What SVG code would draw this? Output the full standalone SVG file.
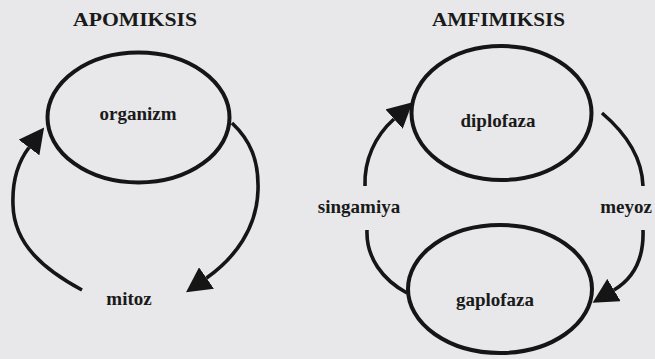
<svg xmlns="http://www.w3.org/2000/svg" width="655" height="359" viewBox="0 0 655 359">
  <style>
    .bg { fill: #e8e8ea; }
    .node { fill: none; stroke: #151515; stroke-width: 4; }
    .link { fill: none; stroke: #151515; stroke-width: 3.6; stroke-linecap: butt; }
    text { font-family: "Liberation Serif", "DejaVu Serif", serif; font-weight: bold; font-size: 19px; fill: #1a1a1a; }
  </style>
  <defs>
    <marker id="head" markerUnits="userSpaceOnUse" viewBox="0 0 25 26" refX="0" refY="13" markerWidth="25" markerHeight="26" orient="auto">
      <path d="M0,0 L25,13 L0,26 Z" fill="#151515"/>
    </marker>
  </defs>

  <rect class="bg" x="0" y="0" width="655" height="359"/>

  <!-- headings -->
  <text x="73" y="26" textLength="124" lengthAdjust="spacingAndGlyphs">APOMIKSIS</text>
  <text x="432" y="26" textLength="133" lengthAdjust="spacingAndGlyphs">AMFIMIKSIS</text>

  <!-- nodes -->
  <g id="organizm">
    <ellipse class="node" cx="138.5" cy="117.5" rx="91" ry="65"/>
    <text x="138" y="120" text-anchor="middle">organizm</text>
  </g>
  <g id="diplofaza">
    <ellipse class="node" cx="501.5" cy="113" rx="90" ry="67"/>
    <text x="498" y="127" text-anchor="middle">diplofaza</text>
  </g>
  <g id="gaplofaza">
    <ellipse class="node" cx="500" cy="289" rx="92" ry="64"/>
    <text x="495" y="306" text-anchor="middle">gaplofaza</text>
  </g>

  <!-- connectors -->
  <g id="connectors">
    <!-- apomixis cycle -->
    <path class="link" d="M232,123 C250,140 259,160 258,190 C257,228 235,258 206.5,278" marker-end="url(#head)"/>
    <path class="link" d="M82,290 C45,270 14,245 13,205 C12,180 18,162 29,147.5" marker-end="url(#head)"/>
    <text x="129" y="305" text-anchor="middle">mitoz</text>

    <!-- amphimixis cycle -->
    <path class="link" d="M602,113 C622,130 642,155 643,186"/>
    <path class="link" d="M643,230 C644,258 634,278 614,290" marker-end="url(#head)"/>
    <text x="626" y="213" text-anchor="middle">meyoz</text>

    <path class="link" d="M407,293 C383,280 366,258 367,230"/>
    <path class="link" d="M365,186 C364,160 375,136 394,119" marker-end="url(#head)"/>
    <text x="359" y="213" text-anchor="middle">singamiya</text>
  </g>
</svg>
